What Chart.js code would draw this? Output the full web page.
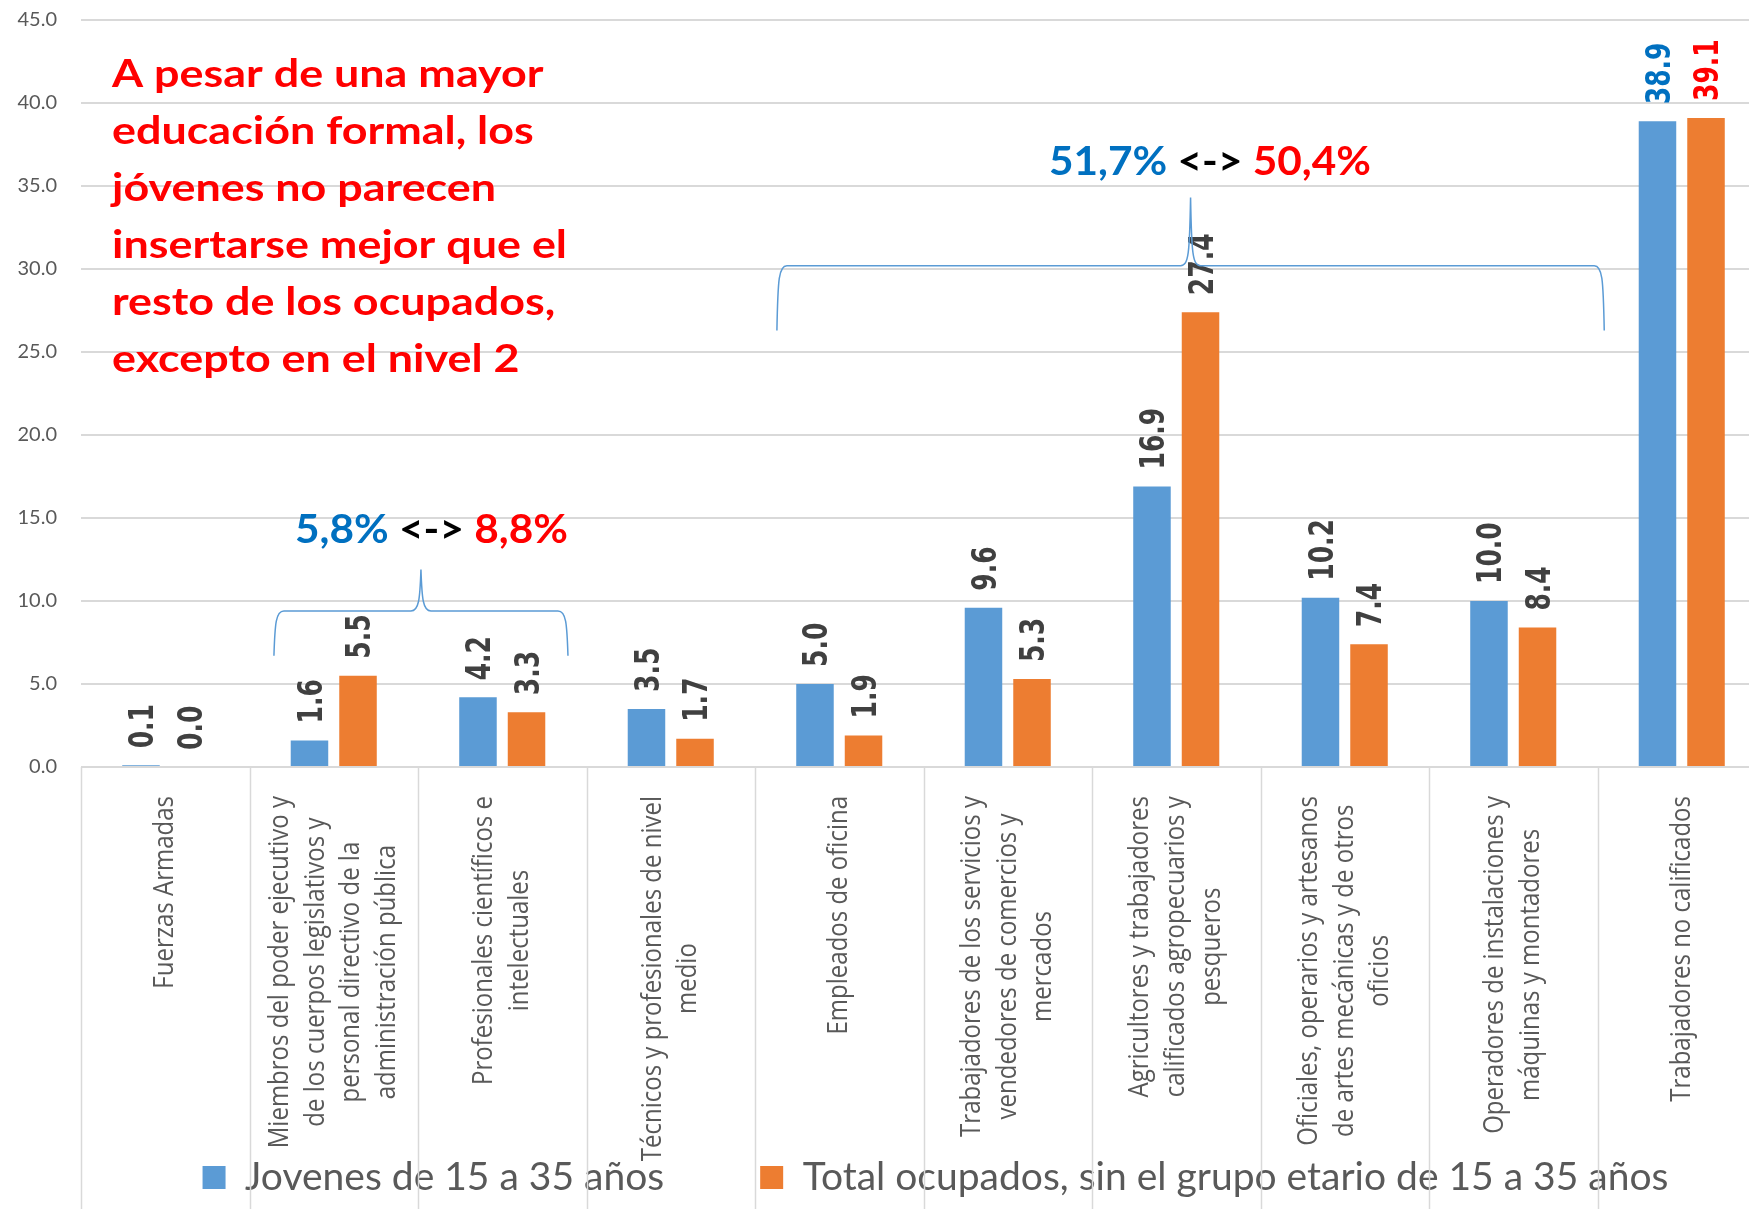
<!DOCTYPE html>
<html>
<head>
<meta charset="utf-8">
<script src="https://cdn.jsdelivr.net/npm/chart.js@4.4.0/dist/chart.umd.min.js"></script>
<style>
  html, body { margin: 0; padding: 0; background: #fff; overflow: hidden; }
  #caja { position: absolute; left: 0; top: 0; width: 1766px; height: 1209px; }
</style>
</head>
<body>
<div id="caja"><canvas id="myChart"></canvas></div>
<script>
// datos
var categorias = [
  ["Fuerzas Armadas"],
  ["Miembros del poder ejecutivo y", "de los cuerpos legislativos y", "personal directivo de la", "administración pública"],
  ["Profesionales científicos e", "intelectuales"],
  ["Técnicos y profesionales de nivel", "medio"],
  ["Empleados de oficina"],
  ["Trabajadores de los servicios y", "vendedores de comercios y", "mercados"],
  ["Agricultores y trabajadores", "calificados agropecuarios y", "pesqueros"],
  ["Oficiales, operarios y artesanos", "de artes mecánicas y de otros", "oficios"],
  ["Operadores de instalaciones y", "máquinas y montadores"],
  ["Trabajadores no calificados"]
];
var jovenes = [0.1, 1.6, 4.2, 3.5, 5.0, 9.6, 16.9, 10.2, 10.0, 38.9];
var restoOcupados = [0.0, 5.5, 3.3, 1.7, 1.9, 5.3, 27.4, 7.4, 8.4, 39.1];
var series = ["Jovenes de 15 a 35 años", "Total ocupados, sin el grupo etario de 15 a 35 años"];
var yMax = 45;
var yPaso = 5;

var nota = ["A pesar de una mayor", "educación formal, los", "jóvenes no parecen",
            "insertarse mejor que el", "resto de los ocupados,", "excepto en el nivel 2"];
var brechaNivel2 = ["5,8%", "8,8%"];
var brechaResto = ["51,7%", "50,4%"];

var AZUL = '#5B9BD5', NARANJA = '#ED7D31', GRIS = '#595959';
var K = 1.15; // estiramiento horizontal del texto girado

function textoPartes(ctx, partes, x, y, ancho) {
  var total = 0;
  partes.forEach(function (p) { total += ctx.measureText(p[0]).width; });
  var sx = ancho / total;
  ctx.save();
  ctx.translate(x, y);
  ctx.scale(sx, 1);
  var cx = 0;
  partes.forEach(function (p) {
    ctx.fillStyle = p[1];
    ctx.fillText(p[0], cx, 0);
    cx += ctx.measureText(p[0]).width;
  });
  ctx.restore();
}

function llave(chart, v0, v1, yH, yFin, yPico) {
  var ctx = chart.ctx, x = chart.scales.x, y = chart.scales.y;
  var x0 = x.getPixelForValue(v0), x1 = x.getPixelForValue(v1), xm = (x0 + x1) / 2;
  var h = y.getPixelForValue(yH), f = y.getPixelForValue(yFin), p = y.getPixelForValue(yPico);
  var r = 10;
  ctx.save();
  ctx.strokeStyle = AZUL;
  ctx.lineWidth = 1.5;
  ctx.beginPath();
  ctx.moveTo(x0, f);
  ctx.bezierCurveTo(x0 + 1, h + 12, x0 + 2, h, x0 + r, h);
  ctx.lineTo(xm - r, h);
  ctx.bezierCurveTo(xm - 2, h, xm - 1, h - 12, xm, p);
  ctx.bezierCurveTo(xm + 1, h - 12, xm + 2, h, xm + r, h);
  ctx.lineTo(x1 - r, h);
  ctx.bezierCurveTo(x1 - 2, h, x1 - 1, h + 12, x1, f);
  ctx.stroke();
  ctx.restore();
}

var extras = {
  id: 'extras',
  afterLayout: function (chart) {
    // la leyenda del original esta algo corrida a la derecha
    chart.legend.left += 12;
    chart.legend.right += 12;
  },
  beforeDatasetsDraw: function (chart) {
    var ctx = chart.ctx, x = chart.scales.x;
    ctx.save();
    ctx.strokeStyle = '#D9D9D9';
    ctx.lineWidth = 1.5;
    for (var i = 0; i <= categorias.length; i++) {
      var px = Math.round(x.getPixelForValue(i - 0.5)) + 0.5;
      ctx.beginPath();
      ctx.moveTo(px, x.top);
      ctx.lineTo(px, chart.height);
      ctx.stroke();
    }
    ctx.restore();
  },
  afterDatasetsDraw: function (chart) {
    var ctx = chart.ctx;
    ctx.save();
    ctx.font = 'bold 25px "DejaVu Sans"';
    ctx.textAlign = 'left';
    ctx.textBaseline = 'alphabetic';
    chart.data.datasets.forEach(function (ds, d) {
      chart.getDatasetMeta(d).data.forEach(function (bar, i) {
        var color = '#404040';
        if (i === categorias.length - 1) color = d === 0 ? '#0070C0' : '#FF0000';
        ctx.save();
        ctx.fillStyle = color;
        ctx.translate(bar.x, bar.y - 17);
        ctx.scale(1.35, 1);
        ctx.rotate(-Math.PI / 2);
        ctx.fillText(ds.data[i].toFixed(1), 0, 9);
        ctx.restore();
      });
    });
    ctx.restore();
  },
  afterDraw: function (chart) {
    var ctx = chart.ctx, x = chart.scales.x;
    // etiquetas de categoria giradas
    ctx.save();
    ctx.font = '24px "Open Sans"';
    ctx.fillStyle = GRIS;
    ctx.textAlign = 'center';
    ctx.textBaseline = 'middle';
    categorias.forEach(function (lineas, i) {
      var cx = x.getPixelForValue(i);
      var largo = 0;
      lineas.forEach(function (l) { largo = Math.max(largo, ctx.measureText(l).width); });
      var yc = x.top + 29 + largo / 2;
      lineas.forEach(function (l, j) {
        ctx.save();
        ctx.translate(cx + (j - (lineas.length - 1) / 2) * 35.7, yc);
        ctx.scale(K, 1);
        ctx.rotate(-Math.PI / 2);
        ctx.fillText(l, 0, 0);
        ctx.restore();
      });
    });
    ctx.restore();

    // llaves
    llave(chart, 0.645, 2.39, 9.4, 6.7, 11.9);
    llave(chart, 3.63, 8.54, 30.2, 26.3, 34.3);

    // textos
    ctx.save();
    ctx.textAlign = 'left';
    ctx.textBaseline = 'alphabetic';
    ctx.font = 'bold 39px Lato';
    var sx = 455 / ctx.measureText(nota[3]).width;
    nota.forEach(function (l, i) {
      ctx.save();
      ctx.translate(112, 87 + i * 57);
      ctx.scale(sx, 1);
      ctx.fillStyle = '#FF0000';
      ctx.fillText(l, 0, 0);
      ctx.restore();
    });
    ctx.font = 'bold 41px Lato';
    textoPartes(ctx, [[brechaNivel2[0], '#0070C0'], [' <-> ', '#000000'], [brechaNivel2[1], '#FF0000']], 295, 543, 273);
    textoPartes(ctx, [[brechaResto[0], '#0070C0'], [' <-> ', '#000000'], [brechaResto[1], '#FF0000']], 1049, 175, 322);
    ctx.restore();
  }
};

var ctx = document.getElementById('myChart').getContext('2d');
var myChart = new Chart(ctx, {
  type: 'bar',
  data: {
    labels: categorias,
    datasets: [{
      label: series[0],
      data: jovenes,
      backgroundColor: AZUL,
      categoryPercentage: 0.576,
      barPercentage: 0.773
    }, {
      label: series[1],
      data: restoOcupados,
      backgroundColor: NARANJA,
      categoryPercentage: 0.576,
      barPercentage: 0.773
    }]
  },
  options: {
    responsive: true,
    maintainAspectRatio: false,
    animation: false,
    devicePixelRatio: 1,
    layout: { padding: { top: 20, bottom: 2, left: 0, right: 0 } },
    plugins: {
      tooltip: { enabled: false },
      legend: {
        position: 'bottom',
        align: 'center',
        fullSize: false,
        labels: {
          boxWidth: 23,
          boxHeight: 23,
          padding: 96,
          color: GRIS,
          font: { family: 'Lato', size: 39 }
        }
      }
    },
    scales: {
      x: {
        ticks: { display: false },
        grid: { display: false },
        border: { display: false },
        afterFit: function (s) {
          s.height = 295;
          s.paddingTop = 0;
          s.paddingBottom = 0;
        }
      },
      y: {
        min: 0,
        max: yMax,
        ticks: {
          stepSize: yPaso,
          padding: 24,
          color: GRIS,
          font: { family: 'Lato', size: 20 },
          callback: function (v) { return v.toFixed(1); }
        },
        grid: { color: '#D9D9D9', lineWidth: 2, drawTicks: false },
        border: { display: false },
        afterFit: function (s) {
          s.width = 81;
          s.paddingTop = 0;
          s.paddingBottom = 0;
        }
      }
    }
  },
  plugins: [extras]
});
</script>
</body>
</html>
